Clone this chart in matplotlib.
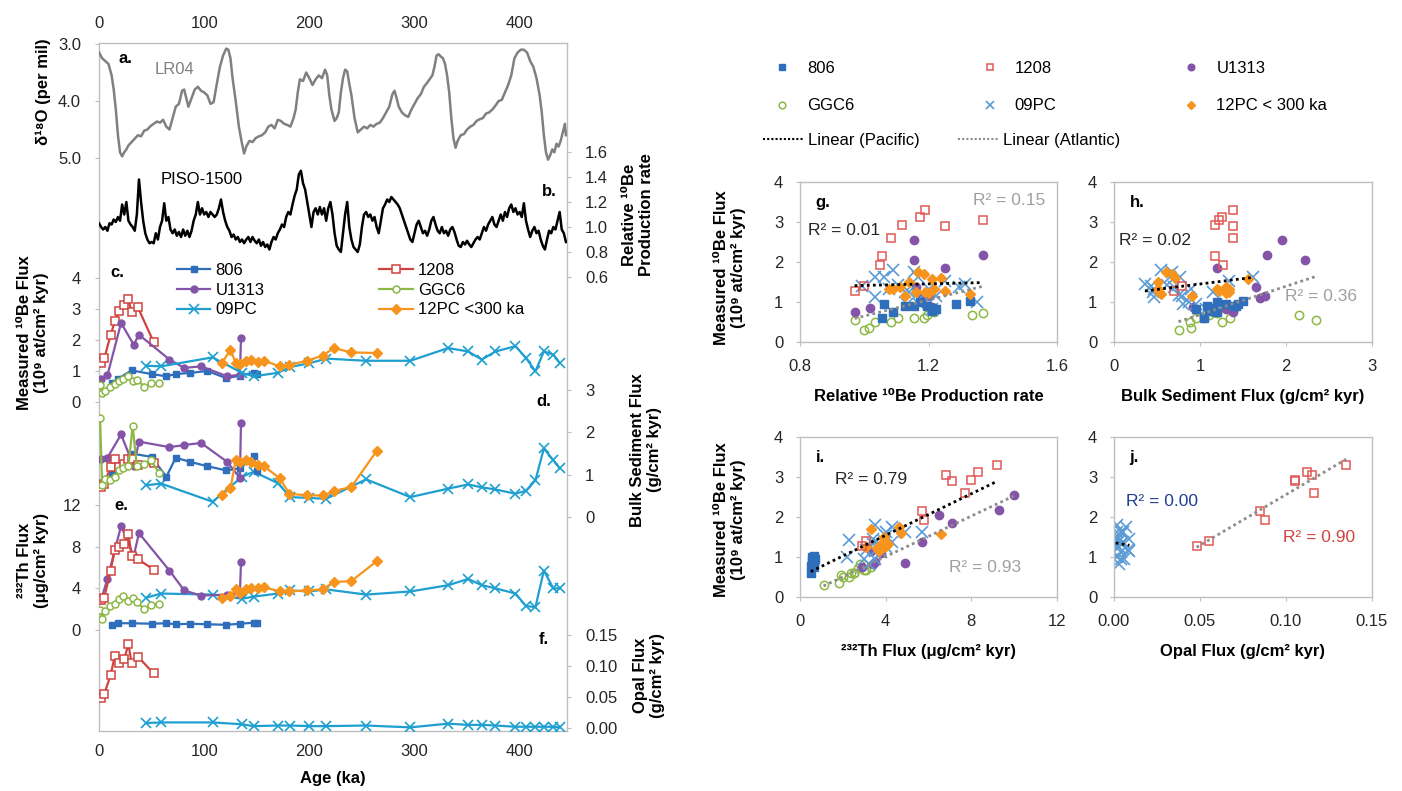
import numpy as np
import matplotlib
matplotlib.use("Agg")
import matplotlib.pyplot as plt
from matplotlib.lines import Line2D

plt.rcParams['font.family'] = ['Liberation Sans', 'DejaVu Sans']

# ------------------------------------------------------------------ data
lr04_age = [0, 3, 6, 9, 12, 14, 16, 18, 20, 22, 24, 26, 28, 31, 34, 37, 40, 43, 46, 49,
            52, 55, 58, 61, 64, 67, 70, 73, 76, 79, 81, 83, 85, 88, 91, 94, 97, 100, 103, 106,
            109, 112, 115, 118, 121, 123, 125, 127, 130, 133, 136, 138, 140, 143, 146, 149, 152, 155, 158, 161,
            164, 167, 170, 173, 176, 179, 182, 185, 187, 189, 191, 194, 197, 200, 203, 206, 209, 212, 215, 217,
            219, 221, 224, 226, 228, 230, 232, 234, 236, 238, 240, 243, 246, 249, 252, 255, 258, 261, 264, 267,
            270, 273, 276, 279, 281, 283, 285, 288, 291, 294, 297, 300, 303, 306, 309, 312, 315, 317, 319, 321,
            323, 325, 327, 329, 331, 333, 335, 337, 339, 341, 344, 347, 350, 353, 356, 359, 362, 365, 368, 371,
            374, 377, 380, 383, 386, 389, 392, 395, 398, 401, 404, 407, 410, 413, 416, 419, 421, 423, 425, 427,
            429, 431, 433, 435, 437, 439, 441, 443, 444]
lr04_d18o = [3.15, 3.25, 3.3, 3.35, 3.55, 3.8, 4.15, 4.6, 4.9, 4.97, 4.9, 4.85, 4.78, 4.72, 4.66, 4.6, 4.62, 4.52, 4.5, 4.44,
             4.4, 4.36, 4.38, 4.33, 4.45, 4.5, 4.3, 4.1, 4.05, 3.82, 3.8, 3.95, 4.1, 3.95, 3.8, 3.75, 3.82, 3.85, 3.9, 4.05,
             4.02, 3.7, 3.4, 3.2, 3.08, 3.1, 3.25, 3.6, 4.0, 4.45, 4.75, 4.92, 4.8, 4.7, 4.72, 4.65, 4.62, 4.6, 4.55, 4.45,
             4.42, 4.48, 4.33, 4.35, 4.4, 4.42, 4.45, 4.3, 4.15, 3.85, 3.62, 3.65, 3.5, 3.6, 3.72, 3.62, 3.55, 3.6, 3.45, 3.55,
             3.9, 4.15, 4.35, 4.3, 4.2, 3.85, 3.6, 3.45, 3.48, 3.7, 3.9, 4.3, 4.55, 4.5, 4.45, 4.48, 4.42, 4.45, 4.4, 4.38,
             4.3, 4.2, 4.1, 3.88, 3.82, 3.95, 4.1, 4.2, 4.25, 4.28, 4.15, 4.05, 3.95, 3.88, 3.75, 3.68, 3.6, 3.55, 3.4, 3.2,
             3.18, 3.22, 3.25, 3.35, 3.55, 3.85, 4.3, 4.65, 4.82, 4.7, 4.6, 4.58, 4.5, 4.45, 4.42, 4.35, 4.32, 4.3, 4.22, 4.2,
             4.15, 4.08, 4.0, 3.98, 3.85, 3.72, 3.55, 3.25, 3.15, 3.1, 3.1, 3.15, 3.3, 3.4, 3.6, 3.9, 4.2, 4.6, 4.9, 5.03,
             4.95, 4.85, 4.9, 4.75, 4.8, 4.7, 4.55, 4.4, 4.6]

piso_age = list(range(0, 446, 2))
piso_rel = [1.03, 1.0, 0.98, 1.0, 0.97, 1.03, 1.02, 1.06, 1.04, 1.08,
            1.05, 1.18, 1.1, 1.2, 1.05, 1.02, 1.0, 0.97, 1.1, 1.38,
            1.2, 1.05, 0.95, 0.9, 0.87, 0.88, 0.87, 0.95, 0.9, 1.0,
            1.05, 1.19, 1.05, 1.08, 0.98, 0.95, 0.98, 0.93, 0.96, 0.92,
            0.98, 0.93, 0.97, 0.92, 0.97, 1.05, 1.1, 1.2, 1.1, 1.15,
            1.1, 1.12, 1.08, 1.12, 1.1, 1.08, 1.1, 1.15, 1.22, 1.12,
            1.05, 1.0, 0.97, 0.92, 0.94, 0.9, 0.92, 0.88, 0.9, 0.87,
            0.9, 0.92, 0.88, 0.92, 0.89, 0.87, 0.9, 0.85, 0.88, 0.84,
            0.86, 0.82, 0.88, 0.92, 0.9, 0.95, 0.98, 1.02, 1.0, 1.08,
            1.12, 1.1, 1.18, 1.25, 1.3, 1.42, 1.45, 1.35, 1.3, 1.2,
            1.1, 1.0, 1.12, 1.15, 1.1, 1.16, 1.1, 1.15, 1.05, 1.15,
            1.2, 1.1, 0.95, 0.85, 0.82, 0.8, 0.95, 1.1, 1.2, 1.0,
            0.9, 0.84, 0.82, 0.8, 0.86, 1.0, 1.1, 1.12, 1.08, 1.1,
            1.05, 1.08, 1.0, 0.95, 1.05, 1.15, 1.18, 1.22, 1.2, 1.24,
            1.22, 1.2, 1.18, 1.15, 1.1, 1.05, 1.0, 0.95, 0.9, 0.88,
            0.95, 1.02, 1.05, 1.0, 0.95, 0.97, 0.93, 0.98, 1.05, 1.08,
            1.02, 0.97, 0.95, 1.0, 0.95, 0.97, 0.93, 0.98, 1.0, 0.96,
            0.9, 0.85, 0.84, 0.88, 0.86, 0.89, 0.86, 0.84, 0.87, 0.9,
            0.92, 0.9, 0.95, 1.0, 0.97, 1.02, 1.05, 1.08, 1.02, 1.0,
            1.05, 1.1, 1.05, 1.12, 1.08, 1.15, 1.18, 1.12, 1.15, 1.1,
            1.12, 1.08, 1.19, 1.05, 0.98, 0.92, 0.97, 1.0, 0.95, 0.97,
            0.9, 0.85, 0.82, 0.9, 0.97, 0.95, 1.0, 0.98, 1.05, 1.12,
            0.98, 0.95, 0.88]

# core 806
age_806 = [12, 18, 31, 50, 64, 73, 87, 103, 121, 134, 147, 150]
be_806 = [0.6, 0.75, 1.02, 0.9, 0.83, 0.9, 0.94, 1.0, 0.77, 0.85, 0.95, 0.9]
bulk_806 = [1.05, 1.2, 1.5, 1.42, 0.95, 1.4, 1.3, 1.2, 1.1, 1.15, 1.44, 1.08]
th_806 = [0.5, 0.65, 0.65, 0.6, 0.65, 0.55, 0.6, 0.55, 0.5, 0.6, 0.7, 0.65]
prod_806 = [1.056, 1.09, 1.33, 1.154, 1.224, 1.126, 1.287, 1.175, 1.21, 1.21, 1.063, 1.196]

# core 1208
age_1208 = [2, 5, 11, 15, 19, 24, 28, 31, 37, 52]
be_1208 = [1.27, 1.41, 2.15, 2.6, 2.93, 3.13, 3.31, 2.9, 3.05, 1.93]
bulk_1208 = [0.7, 0.79, 1.18, 1.38, 1.18, 1.25, 1.38, 1.38, 1.22, 1.27]
th_1208 = [2.9, 3.1, 5.7, 7.7, 8.0, 8.3, 9.2, 7.1, 6.8, 5.8]
opal_1208 = [0.048, 0.055, 0.085, 0.116, 0.105, 0.112, 0.135, 0.105, 0.115, 0.088]
prod_1208 = [0.97, 1.0, 1.056, 1.084, 1.119, 1.175, 1.189, 1.252, 1.369, 1.049]

# core U1313
age_u1313 = [2, 8, 21, 33, 38, 67, 81, 97, 122, 134, 135]
be_u1313 = [0.75, 0.86, 2.55, 1.85, 2.17, 1.37, 1.1, 1.15, 0.83, 0.88, 2.06]
bulk_u1313 = [1.38, 1.4, 1.95, 1.2, 1.78, 1.65, 1.7, 1.75, 1.3, 0.92, 2.22]
th_u1313 = [2.9, 4.9, 10.0, 7.1, 9.3, 5.7, 3.8, 3.3, 3.4, 3.5, 6.5]
prod_u1313 = [0.97, 1.017, 1.154, 1.252, 1.369, 1.16, 1.18, 1.2, 1.22, 1.21, 1.154]

# core GGC6
age_ggc6 = [1, 3, 6, 10, 15, 19, 23, 28, 32, 36, 43, 49, 57]
be_ggc6 = [0.56, 0.29, 0.34, 0.5, 0.59, 0.67, 0.74, 0.83, 0.67, 0.72, 0.5, 0.6, 0.6]
bulk_ggc6 = [2.35, 0.75, 0.9, 0.88, 0.95, 1.1, 1.15, 1.2, 2.15, 1.2, 1.25, 1.35, 1.05]
th_ggc6 = [1.9, 1.1, 1.8, 2.3, 2.5, 3.0, 3.3, 2.8, 3.1, 2.7, 2.0, 2.4, 2.5]
prod_ggc6 = [0.972, 1.0, 1.014, 1.084, 1.105, 1.196, 1.217, 1.22, 1.336, 1.369, 1.032, 1.154, 1.185]

# core 09PC
age_09pc = [45, 59, 108, 136, 147, 170, 182, 200, 216, 254, 296, 332, 351, 364, 377, 396, 406, 415, 423, 432, 438]
be_09pc = [1.17, 1.15, 1.44, 0.94, 0.83, 0.94, 1.13, 1.25, 1.4, 1.33, 1.33, 1.74, 1.63, 1.37, 1.63, 1.8, 1.42, 0.99, 1.63, 1.53, 1.26]
bulk_09pc = [0.75, 0.79, 0.36, 0.95, 1.07, 0.8, 0.47, 0.45, 0.43, 0.89, 0.47, 0.67, 0.77, 0.7, 0.65, 0.55, 0.62, 0.87, 1.62, 1.34, 1.15]
th_09pc = [3.1, 3.5, 3.4, 3.0, 3.2, 3.5, 3.8, 3.7, 3.9, 3.4, 3.7, 4.3, 4.9, 4.3, 4.0, 3.5, 2.3, 2.2, 5.7, 4.0, 4.0]
opal_09pc = [0.008, 0.009, 0.009, 0.006, 0.003, 0.004, 0.004, 0.003, 0.003, 0.004, 0.001, 0.007, 0.005, 0.005, 0.004, 0.002, 0.002, 0.002, 0.002, 0.002, 0.001]
prod_09pc = [1.182, 1.224, 1.315, 1.133, 1.21, 1.17, 1.035, 1.126, 0.993, 1.203, 1.077, 1.154, 1.063, 1.294, 1.032, 1.091, 1.105, 1.35, 1.168, 1.252, 1.14]

# core 12PC (< 300 ka)
age_12pc = [117, 125, 130, 134, 140, 145, 151, 157, 172, 181, 198, 213, 223, 240, 264]
be_12pc = [1.26, 1.69, 1.26, 1.22, 1.33, 1.37, 1.28, 1.33, 1.15, 1.2, 1.33, 1.5, 1.74, 1.6, 1.58]
bulk_12pc = [0.52, 0.68, 1.34, 1.3, 1.34, 1.3, 1.22, 1.2, 0.91, 0.55, 0.51, 0.51, 0.61, 0.71, 1.56]
th_12pc = [3.1, 3.3, 3.9, 3.6, 3.9, 4.0, 4.0, 4.1, 3.7, 3.7, 3.8, 3.9, 4.6, 4.7, 6.6]
prod_12pc = [1.161, 1.185, 1.189, 1.203, 1.091, 1.112, 1.252, 1.217, 1.126, 1.33, 1.077, 1.14, 1.168, 1.238, 1.21]

age_ticks = [0, 100, 200, 300, 400]
r2_labels = {'g': ('R² = 0.01', 'R² = 0.15'), 'h': ('R² = 0.02', 'R² = 0.36'),
             'i': ('R² = 0.79', 'R² = 0.93'), 'j': ('R² = 0.00', 'R² = 0.90')}

# ------------------------------------------------------------------ style
C806, C1208, CU, CG, C09, C12 = '#2F6EBA', '#D0443F', '#8454A8', '#8DB846', '#1E9FD0', '#F7941D'
C09S = '#5B9BD5'
GRID = '#BFBFBF'
TXT = '#262626'
FS = 12

W, H = 1402, 791
fig = plt.figure(figsize=(W / 100, H / 100), dpi=100)


def rect(x0, y0, x1, y1):
    return [x0 / W, 1 - y1 / H, (x1 - x0) / W, (y1 - y0) / H]


def ftext(x, y, s, **kw):
    fig.text(x / W, 1 - y / H, s, **kw)


TOP, BOT = 43, 731
LRECT = rect(99, TOP, 567, BOT)
base = fig.add_axes(LRECT, label='base')
base.set_xlim(0, 445)
base.set_ylim(0, 1)
base.set_yticks([])
base.set_xticks(age_ticks)
base.tick_params(axis='x', top=True, labeltop=True, bottom=True, labelbottom=True,
                 length=0, pad=9, labelsize=FS, labelcolor=TXT)
for sp in base.spines.values():
    sp.set_color(GRID)
    sp.set_linewidth(1.0)
base.set_xlabel('Age (ka)', fontsize=FS, fontweight='bold', labelpad=9)


def panel(name, v1, p1, v2, p2, side, ticks, fmt):
    a = fig.add_axes(LRECT, sharex=base, label=name)
    a.set_facecolor('none')
    for sp in a.spines.values():
        sp.set_visible(False)
    s = (v2 - v1) / (p2 - p1)
    a.set_ylim(v1 + s * (BOT - p1), v1 + s * (TOP - p1))
    a.tick_params(axis='x', which='both', bottom=False, top=False,
                  labelbottom=False, labeltop=False)
    a.yaxis.set_ticks_position(side)
    a.set_yticks(ticks)
    a.set_yticklabels([fmt.format(t) for t in ticks])
    a.tick_params(axis='y', length=3, color=GRID, labelsize=FS, labelcolor=TXT, pad=10)
    return a


ax_a = panel('a', 3.0, 44, 5.0, 158, 'left', [3.0, 4.0, 5.0], '{:.1f}')
ax_b = panel('b', 1.6, 152, 0.6, 277, 'right', [0.6, 0.8, 1.0, 1.2, 1.4, 1.6], '{:.1f}')
ax_c = panel('c', 4, 278, 0, 402, 'left', [0, 1, 2, 3, 4], '{:.0f}')
ax_d = panel('d', 3, 390, 0, 517, 'right', [0, 1, 2, 3], '{:.0f}')
ax_e = panel('e', 12, 505, 0, 630, 'left', [0, 4, 8, 12], '{:.0f}')
ax_f = panel('f', 0.15, 635, 0.0, 728, 'right', [0.0, 0.05, 0.10, 0.15], '{:.2f}')

ax_a.plot(lr04_age, lr04_d18o, color='#808080', lw=1.8)
ax_b.plot(piso_age, piso_rel, color='black', lw=1.8)

styles = {
    '806': dict(color=C806, marker='s', ms=5, mfc=C806, mec=C806),
    '1208': dict(color=C1208, marker='s', ms=5.5, mfc='white', mec=C1208, mew=1.1),
    'U1313': dict(color=CU, marker='o', ms=5, mfc=CU, mec=CU),
    'GGC6': dict(color=CG, marker='o', ms=5, mfc='white', mec=CG, mew=1.1),
    '09PC': dict(color=C09, marker='x', ms=7, mew=1.2),
    '12PC <300 ka': dict(color=C12, marker='D', ms=5, mfc=C12, mec=C12),
}
LW = 1.6

series_c = [('806', age_806, be_806), ('1208', age_1208, be_1208), ('U1313', age_u1313, be_u1313),
            ('GGC6', age_ggc6, be_ggc6), ('09PC', age_09pc, be_09pc), ('12PC <300 ka', age_12pc, be_12pc)]
handles = {}
for nm, x, y in series_c:
    h, = ax_c.plot(x, y, lw=LW, **styles[nm], label=nm)
    handles[nm] = h

for nm, x, y in [('09PC', age_09pc, bulk_09pc), ('806', age_806, bulk_806), ('U1313', age_u1313, bulk_u1313),
                 ('1208', age_1208, bulk_1208), ('GGC6', age_ggc6, bulk_ggc6), ('12PC <300 ka', age_12pc, bulk_12pc)]:
    ax_d.plot(x, y, lw=LW, **styles[nm])

for nm, x, y in [('09PC', age_09pc, th_09pc), ('806', age_806, th_806), ('U1313', age_u1313, th_u1313),
                 ('1208', age_1208, th_1208), ('GGC6', age_ggc6, th_ggc6), ('12PC <300 ka', age_12pc, th_12pc)]:
    ax_e.plot(x, y, lw=LW, **styles[nm])

ax_f.plot(age_1208, opal_1208, lw=LW, **styles['1208'])
ax_f.plot(age_09pc, opal_09pc, lw=LW, **styles['09PC'])

order = ['806', 'U1313', '09PC', '1208', 'GGC6', '12PC <300 ka']
ax_c.legend([handles[k] for k in order], order, ncol=2, loc='upper left',
            bbox_to_anchor=(177 / W, 1 - 263 / H), bbox_transform=fig.transFigure,
            frameon=False, fontsize=FS, handlelength=2.0, handletextpad=0.3,
            columnspacing=6.9, labelspacing=0.28, borderpad=0, borderaxespad=0)

# panel letters / series names
ax_a.text(25, 3.26, 'a.', fontsize=FS, fontweight='bold', ha='center', va='center')
ax_a.text(53, 3.45, 'LR04', fontsize=FS, color='#808080', ha='left', va='center')
ax_b.text(98, 1.376, 'PISO-1500', fontsize=FS, color='black', ha='center', va='center')
ax_b.text(428, 1.28, 'b.', fontsize=FS, fontweight='bold', ha='center', va='center')
ax_c.text(17, 4.19, 'c.', fontsize=FS, fontweight='bold', ha='center', va='center')
ax_d.text(423, 2.72, 'd.', fontsize=FS, fontweight='bold', ha='center', va='center')
ax_e.text(21, 12.0, 'e.', fontsize=FS, fontweight='bold', ha='center', va='center')
ax_f.text(423, 0.142, 'f.', fontsize=FS, fontweight='bold', ha='center', va='center')

lab = dict(fontsize=FS, fontweight='bold', rotation=90, ha='center', va='center',
           multialignment='center', linespacing=1.1)
ftext(43, 92, 'δ¹⁸O (per mil)', **lab)
ftext(33, 333, 'Measured ¹⁰Be Flux\n(10⁹ at/cm² kyr)', **lab)
ftext(33, 560, '²³²Th Flux\n(μg/cm² kyr)', **lab)
ftext(638, 215, 'Relative ¹⁰Be\nProduction rate', **lab)
ftext(646, 450, 'Bulk Sediment Flux\n(g/cm² kyr)', **lab)
ftext(649, 675, 'Opal Flux\n(g/cm² kyr)', **lab)

# ------------------------------------------------------------------ scatter panels
sstyles = {
    '806': dict(marker='s', ms=5.5, color=C806, mfc=C806, mec=C806, ls='none'),
    '1208': dict(marker='s', ms=6, color='#E05A55', mfc='none', mec='#E05A55', mew=1.1, ls='none'),
    'U1313': dict(marker='o', ms=6, color=CU, mfc=CU, mec=CU, ls='none'),
    'GGC6': dict(marker='o', ms=6, color=CG, mfc='none', mec=CG, mew=1.1, ls='none'),
    '09PC': dict(marker='x', ms=8, color=C09S, mew=1.2, ls='none'),
    '12PC': dict(marker='D', ms=5.5, color=C12, mfc=C12, mec=C12, ls='none'),
}


def sax(r, xlim, xticks, xfmt, xlabel, letter):
    a = fig.add_axes(rect(*r))
    a.set_xlim(*xlim)
    a.set_ylim(0, 4)
    a.set_xticks(xticks)
    a.set_xticklabels([xfmt.format(t) for t in xticks])
    a.set_yticks([0, 1, 2, 3, 4])
    for sp in a.spines.values():
        sp.set_color(GRID)
        sp.set_linewidth(1.0)
    a.tick_params(length=3, color=GRID, labelsize=FS, labelcolor=TXT, pad=9)
    a.set_xlabel(xlabel, fontsize=FS, fontweight='bold', labelpad=11)
    a.text(0.06, 0.875, letter, transform=a.transAxes, fontsize=FS, fontweight='bold',
           ha='left', va='center')
    return a


def trend(a, xs, ys, color):
    x = np.concatenate([np.asarray(v, float) for v in xs])
    y = np.concatenate([np.asarray(v, float) for v in ys])
    k, b = np.polyfit(x, y, 1)
    xx = np.array([x.min(), x.max()])
    a.plot(xx, k * xx + b, ls=(0, (1, 1.2)), lw=2.0, color=color, zorder=5)


def scat(a, data):
    for nm, x, y in data:
        a.plot(x, y, **sstyles[nm])


ax_g = sax((800, 182, 1057, 342), (0.8, 1.6), [0.8, 1.2, 1.6], '{:.1f}',
           'Relative ¹⁰Be Production rate', 'g.')
scat(ax_g, [('GGC6', prod_ggc6, be_ggc6), ('U1313', prod_u1313, be_u1313), ('09PC', prod_09pc, be_09pc),
            ('806', prod_806, be_806), ('12PC', prod_12pc, be_12pc), ('1208', prod_1208, be_1208)])
trend(ax_g, [prod_806, prod_1208, prod_09pc, prod_12pc], [be_806, be_1208, be_09pc, be_12pc], 'black')
trend(ax_g, [prod_u1313, prod_ggc6], [be_u1313, be_ggc6], '#8C8C8C')

ax_h = sax((1114, 182, 1372, 342), (0, 3), [0, 1, 2, 3], '{:.0f}',
           'Bulk Sediment Flux (g/cm² kyr)', 'h.')
scat(ax_h, [('GGC6', bulk_ggc6, be_ggc6), ('U1313', bulk_u1313, be_u1313), ('09PC', bulk_09pc, be_09pc),
            ('806', bulk_806, be_806), ('12PC', bulk_12pc, be_12pc), ('1208', bulk_1208, be_1208)])
trend(ax_h, [bulk_806, bulk_1208, bulk_09pc, bulk_12pc], [be_806, be_1208, be_09pc, be_12pc], 'black')
trend(ax_h, [bulk_u1313, bulk_ggc6], [be_u1313, be_ggc6], '#8C8C8C')

ax_i = sax((800, 437, 1057, 597), (0, 12), [0, 4, 8, 12], '{:.0f}',
           '²³²Th Flux (μg/cm² kyr)', 'i.')
scat(ax_i, [('GGC6', th_ggc6, be_ggc6), ('U1313', th_u1313, be_u1313), ('09PC', th_09pc, be_09pc),
            ('806', th_806, be_806), ('12PC', th_12pc, be_12pc), ('1208', th_1208, be_1208)])
trend(ax_i, [th_806, th_1208, th_09pc, th_12pc], [be_806, be_1208, be_09pc, be_12pc], 'black')
trend(ax_i, [th_u1313, th_ggc6], [be_u1313, be_ggc6], '#8C8C8C')

ax_j = sax((1114, 437, 1372, 597), (0, 0.15), [0, 0.05, 0.10, 0.15], '{:.2f}',
           'Opal Flux (g/cm² kyr)', 'j.')
scat(ax_j, [('09PC', opal_09pc, be_09pc), ('1208', opal_1208, be_1208)])
trend(ax_j, [opal_09pc], [be_09pc], 'black')
trend(ax_j, [opal_1208], [be_1208], '#8C8C8C')

RFS = 12.5
ax_g.text(0.825, 2.8, r2_labels['g'][0], fontsize=RFS, color=TXT, ha='left', va='center')
ax_g.text(1.339, 3.55, r2_labels['g'][1], fontsize=RFS, color='#A0A0A0', ha='left', va='center')
ax_h.text(0.06, 2.55, r2_labels['h'][0], fontsize=RFS, color=TXT, ha='left', va='center')
ax_h.text(1.99, 1.13, r2_labels['h'][1], fontsize=RFS, color='#A0A0A0', ha='left', va='center')
ax_i.text(1.63, 2.93, r2_labels['i'][0], fontsize=RFS, color=TXT, ha='left', va='center')
ax_i.text(6.96, 0.73, r2_labels['i'][1], fontsize=RFS, color='#A0A0A0', ha='left', va='center')
ax_j.text(0.007, 2.38, r2_labels['j'][0], fontsize=RFS, color='#1F3F8F', ha='left', va='center')
ax_j.text(0.098, 1.5, r2_labels['j'][1], fontsize=RFS, color='#D0443F', ha='left', va='center')

ftext(730, 268, 'Measured ¹⁰Be Flux\n(10⁹ at/cm² kyr)', **lab)
ftext(730, 520, 'Measured ¹⁰Be Flux\n(10⁹ at/cm² kyr)', **lab)

# scatter legend
leg_names = ['806', 'GGC6', '1208', '09PC', 'U1313', '12PC']
leg_labels = ['806', 'GGC6', '1208', '09PC', 'U1313', '12PC < 300 ka']
leg_h = []
for nm in leg_names:
    st = dict(sstyles[nm])
    st['ms'] = st['ms'] * 0.8
    leg_h.append(Line2D([], [], **st))
fig.legend(leg_h, leg_labels, ncol=3, loc='upper left', bbox_to_anchor=(774 / W, 1 - 61 / H),
           frameon=False, fontsize=FS, handlelength=1.0, handletextpad=1.0,
           columnspacing=7.6, labelspacing=1.35, borderpad=0, borderaxespad=0)
lin_h = [Line2D([], [], color='black', ls=(0, (1, 1)), lw=1.5),
         Line2D([], [], color='#8C8C8C', ls=(0, (1, 1)), lw=1.5)]
fig.legend(lin_h, ['Linear (Pacific)', 'Linear (Atlantic)'], ncol=2, loc='upper left',
           bbox_to_anchor=(763 / W, 1 - 133 / H), frameon=False, fontsize=FS,
           handlelength=2.4, handletextpad=0.3, columnspacing=2.3, borderpad=0, borderaxespad=0)

fig.savefig('out.png', dpi=100)
